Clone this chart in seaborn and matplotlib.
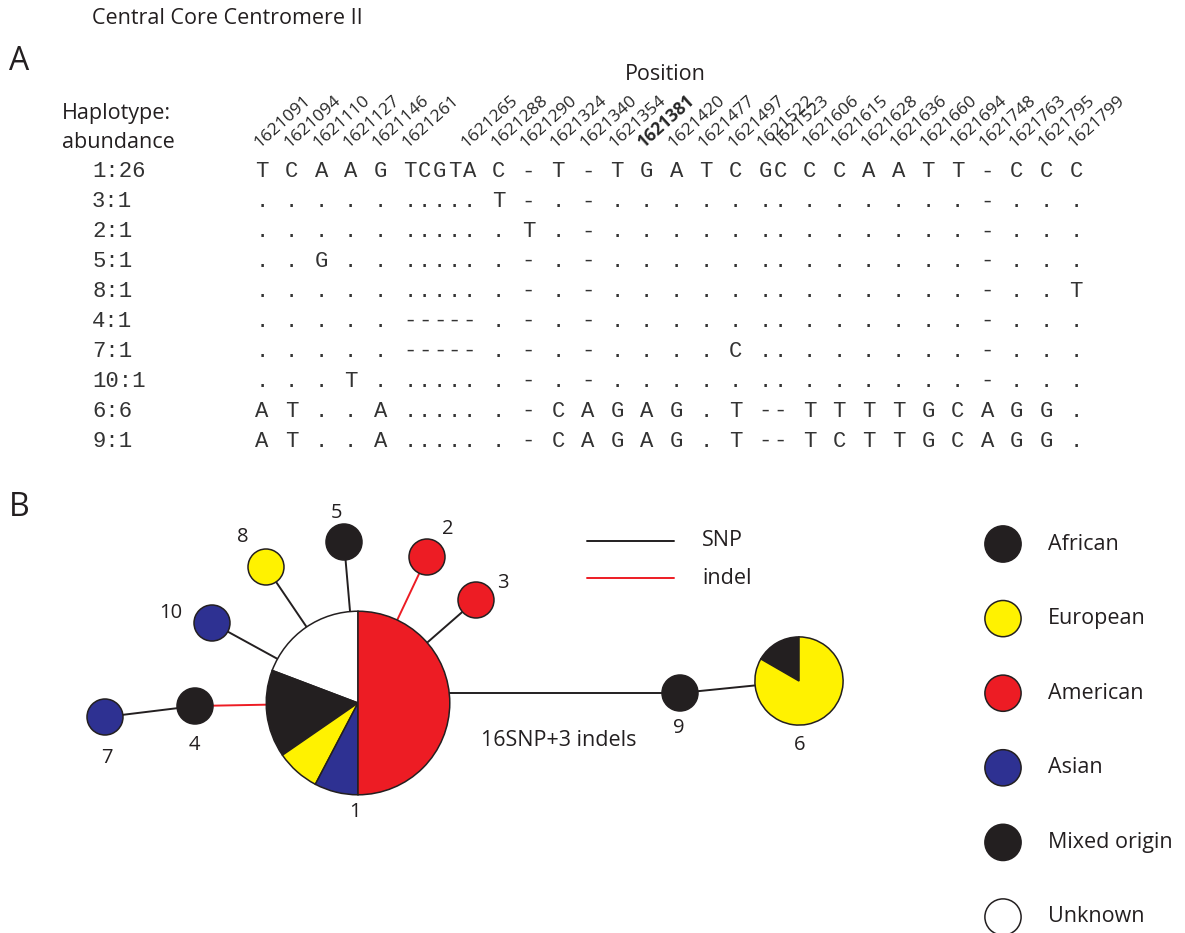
import numpy as np
import pandas as pd
import matplotlib
matplotlib.use("Agg")
import matplotlib.pyplot as plt
from matplotlib.colors import ListedColormap
import seaborn as sns

# ---------------- data ----------------
# Panel A: haplotype alignment at variable sites (monospace columns)
haplotype_ids = ["1", "3", "2", "5", "8", "4", "7", "10", "6", "9"]
abundances = [26, 1, 1, 1, 1, 1, 1, 1, 6, 1]
sequences = [
    "T C A A G TCGTA C - T - T G A T C GC C C A A T T - C C C",
    ". . . . . ..... T - . - . . . . . .. . . . . . . - . . .",
    ". . . . . ..... . T . - . . . . . .. . . . . . . - . . .",
    ". . G . . ..... . - . - . . . . . .. . . . . . . - . . .",
    ". . . . . ..... . - . - . . . . . .. . . . . . . - . . T",
    ". . . . . ----- . - . - . . . . . .. . . . . . . - . . .",
    ". . . . . ----- . - . - . . . . C .. . . . . . . - . . .",
    ". . . T . ..... . - . - . . . . . .. . . . . . . - . . .",
    "A T . . A ..... . - C A G A G . T -- T T T T G C A G G .",
    "A T . . A ..... . - C A G A G . T -- T C T T G C A G G .",
]
positions = [1621091, 1621094, 1621110, 1621127, 1621146, 1621261, 1621265,
             1621288, 1621290, 1621324, 1621340, 1621354, 1621381, 1621420,
             1621477, 1621497, 1621522, 1621523, 1621606, 1621615, 1621628,
             1621636, 1621660, 1621694, 1621748, 1621763, 1621795, 1621799]
highlight_position = 1621381

# Panel B: haplotype network
regions = ["African", "European", "American", "Asian", "Mixed origin", "Unknown"]
region_colors = ["#231f20", "#fff200", "#ed1c24", "#2e3192", "#231f20", "#ffffff"]

# sample origin of each haplotype, wedges listed counter-clockwise from 12 o'clock
hap_regions = {
    "1": ["Unknown", "African", "European", "Asian", "American"],
    "2": ["American"], "3": ["American"], "4": ["African"], "5": ["African"],
    "6": ["African", "European"], "7": ["Asian"], "8": ["European"],
    "9": ["African"], "10": ["Asian"],
}
hap_counts = {
    "1": [5, 4, 2, 2, 13],
    "2": [1], "3": [1], "4": [1], "5": [1],
    "6": [1, 5], "7": [1], "8": [1], "9": [1], "10": [1],
}
edge_from = ["1", "1", "1", "1", "1", "1", "4", "1", "9"]
edge_to = ["2", "3", "5", "8", "10", "4", "7", "9", "6"]
edge_kind = ["indel", "SNP", "SNP", "SNP", "SNP", "indel", "SNP", "SNP", "SNP"]
long_branch_label = "16SNP+3 indels"

# ---------------- layout & style ----------------
W, H = 1185, 933
INK = "#231f20"
MONO = "Liberation Mono"
kind_colors = {"SNP": INK, "indel": "#ed1c24"}
color_of = dict(zip(regions, region_colors))

# network node centres and label anchors (canvas units, y up)
node_xy = {"1": (358, 230), "2": (427, 376), "3": (476, 333), "4": (195, 227),
           "5": (344, 391), "6": (799, 252), "7": (105, 216), "8": (266, 366),
           "9": (680, 240), "10": (212, 310)}
label_xy = {"1": (355, 121), "2": (448, 404), "3": (503, 350), "4": (194, 188),
            "5": (336, 420), "6": (800, 188), "7": (107, 175), "8": (243, 396),
            "9": (679, 205), "10": (171, 320)}
# branches that leave the source node horizontally at the target's height
level_branches = {("1", "9")}
unit_radius = 18.0
site_columns = [0, 2, 4, 6, 8, 10, 14, 16, 18, 20, 22, 24, 26, 28, 30, 32,
                34, 35, 37, 39, 41, 43, 45, 47, 49, 51, 53, 55]

sns.set_style("white")
plt.rcParams["font.family"] = ["Open Sans", "DejaVu Sans"]
plt.rcParams["text.color"] = INK

fig = plt.figure(figsize=(W / 100, H / 100), dpi=100)

# canvas axes covering the whole figure
ax = fig.add_axes([0, 0, 1, 1])
ax.set_facecolor("none")

# ---------------- panel A ----------------
ax.text(92, 915, "Central Core Centromere II", fontsize=15.5, ha="left", va="center")
ax.text(19, 872, "A", fontsize=23, ha="center", va="center")
ax.text(665, 859, "Position", fontsize=15.5, ha="center", va="center")
ax.text(62, 820, "Haplotype:", fontsize=15.5, ha="left", va="center")
ax.text(62, 791, "abundance", fontsize=15.5, ha="left", va="center")

n_rows, n_cols = len(sequences), len(sequences[0])
assert all(len(s) == n_cols for s in sequences)
chars = np.array([list(s) for s in sequences])
row_labels = [f"{h}:{a}" for h, a in zip(haplotype_ids, abundances)]
grid = pd.DataFrame(np.zeros((n_rows, n_cols)), index=row_labels)

left_px, right_px, top_px, bottom_px = 254.6, 1083.4, 157.0, 456.0
ax_a = fig.add_axes([left_px / W, 1 - bottom_px / H,
                     (right_px - left_px) / W, (bottom_px - top_px) / H])
sns.heatmap(grid, annot=chars, fmt="", cmap=ListedColormap(["white"]),
            vmin=0, vmax=1, cbar=False, ax=ax_a, xticklabels=False,
            yticklabels=True,
            annot_kws=dict(fontfamily=MONO, fontsize=16, color="#333333"))
for sp in ax_a.spines.values():
    sp.set_visible(False)

ax_a.set_yticks(np.arange(n_rows) + 0.5)
ax_a.set_yticklabels(row_labels, rotation=0, ha="left", va="center",
                     fontfamily=MONO, fontsize=16, color="#333333")
ax_a.tick_params(axis="y", length=0, pad=117)

ax_a.xaxis.tick_top()
ax_a.set_xticks(np.array(site_columns) + 0.5)
ax_a.set_xticklabels([str(p) for p in positions], rotation=42, ha="left",
                     va="bottom", rotation_mode="anchor", fontsize=12.5)
for lab, p in zip(ax_a.get_xticklabels(), positions):
    if p == highlight_position:
        lab.set_fontweight("bold")
ax_a.tick_params(axis="x", length=0, pad=4)

# ---------------- panel B ----------------
ax.text(19, 425, "B", fontsize=23, ha="center", va="center")

for a, b, k in zip(edge_from, edge_to, edge_kind):
    (x1, y1), (x2, y2) = node_xy[a], node_xy[b]
    if (a, b) in level_branches:
        y1 = y2
    ax.plot([x1, x2], [y1, y2], color=kind_colors[k], lw=1.4, zorder=0.5,
            solid_capstyle="butt")

for hap in haplotype_ids:
    counts = hap_counts[hap]
    cols = [color_of[r] for r in hap_regions[hap]]
    ax.pie(counts, colors=cols, center=node_xy[hap],
           radius=unit_radius * np.sqrt(sum(counts)), startangle=90,
           counterclock=True, frame=True,
           wedgeprops=dict(edgecolor=INK, linewidth=1.1))
    lx, ly = label_xy[hap]
    ax.text(lx, ly, hap, fontsize=14.5, ha="center", va="center")

ax.text(559, 193, long_branch_label, fontsize=15.5, ha="center", va="center")

# edge-type key
for i, k in enumerate(["SNP", "indel"]):
    y = 392 - 37 * i
    ax.plot([587, 674], [y, y], color=kind_colors[k], lw=1.4)
    ax.text(702, y, k, fontsize=15.5, ha="left", va="center")

# origin key
key = pd.DataFrame({"region": regions,
                    "x": [1003.0] * len(regions),
                    "y": 389 - 74.6 * np.arange(len(regions))})
sns.scatterplot(data=key, x="x", y="y", hue="region", palette=color_of,
                s=680, edgecolor=INK, linewidth=1.1, legend=False, ax=ax,
                zorder=3)
for r, y in zip(key["region"], key["y"]):
    ax.text(1048, y, r, fontsize=15.5, ha="left", va="center")

ax.set_xlim(0, W)
ax.set_ylim(0, H)
ax.set_aspect("equal", adjustable="box")
ax.set_position([0, 0, 1, 1])
ax.axis("off")

fig.savefig("out.png", dpi=100, facecolor="white")
